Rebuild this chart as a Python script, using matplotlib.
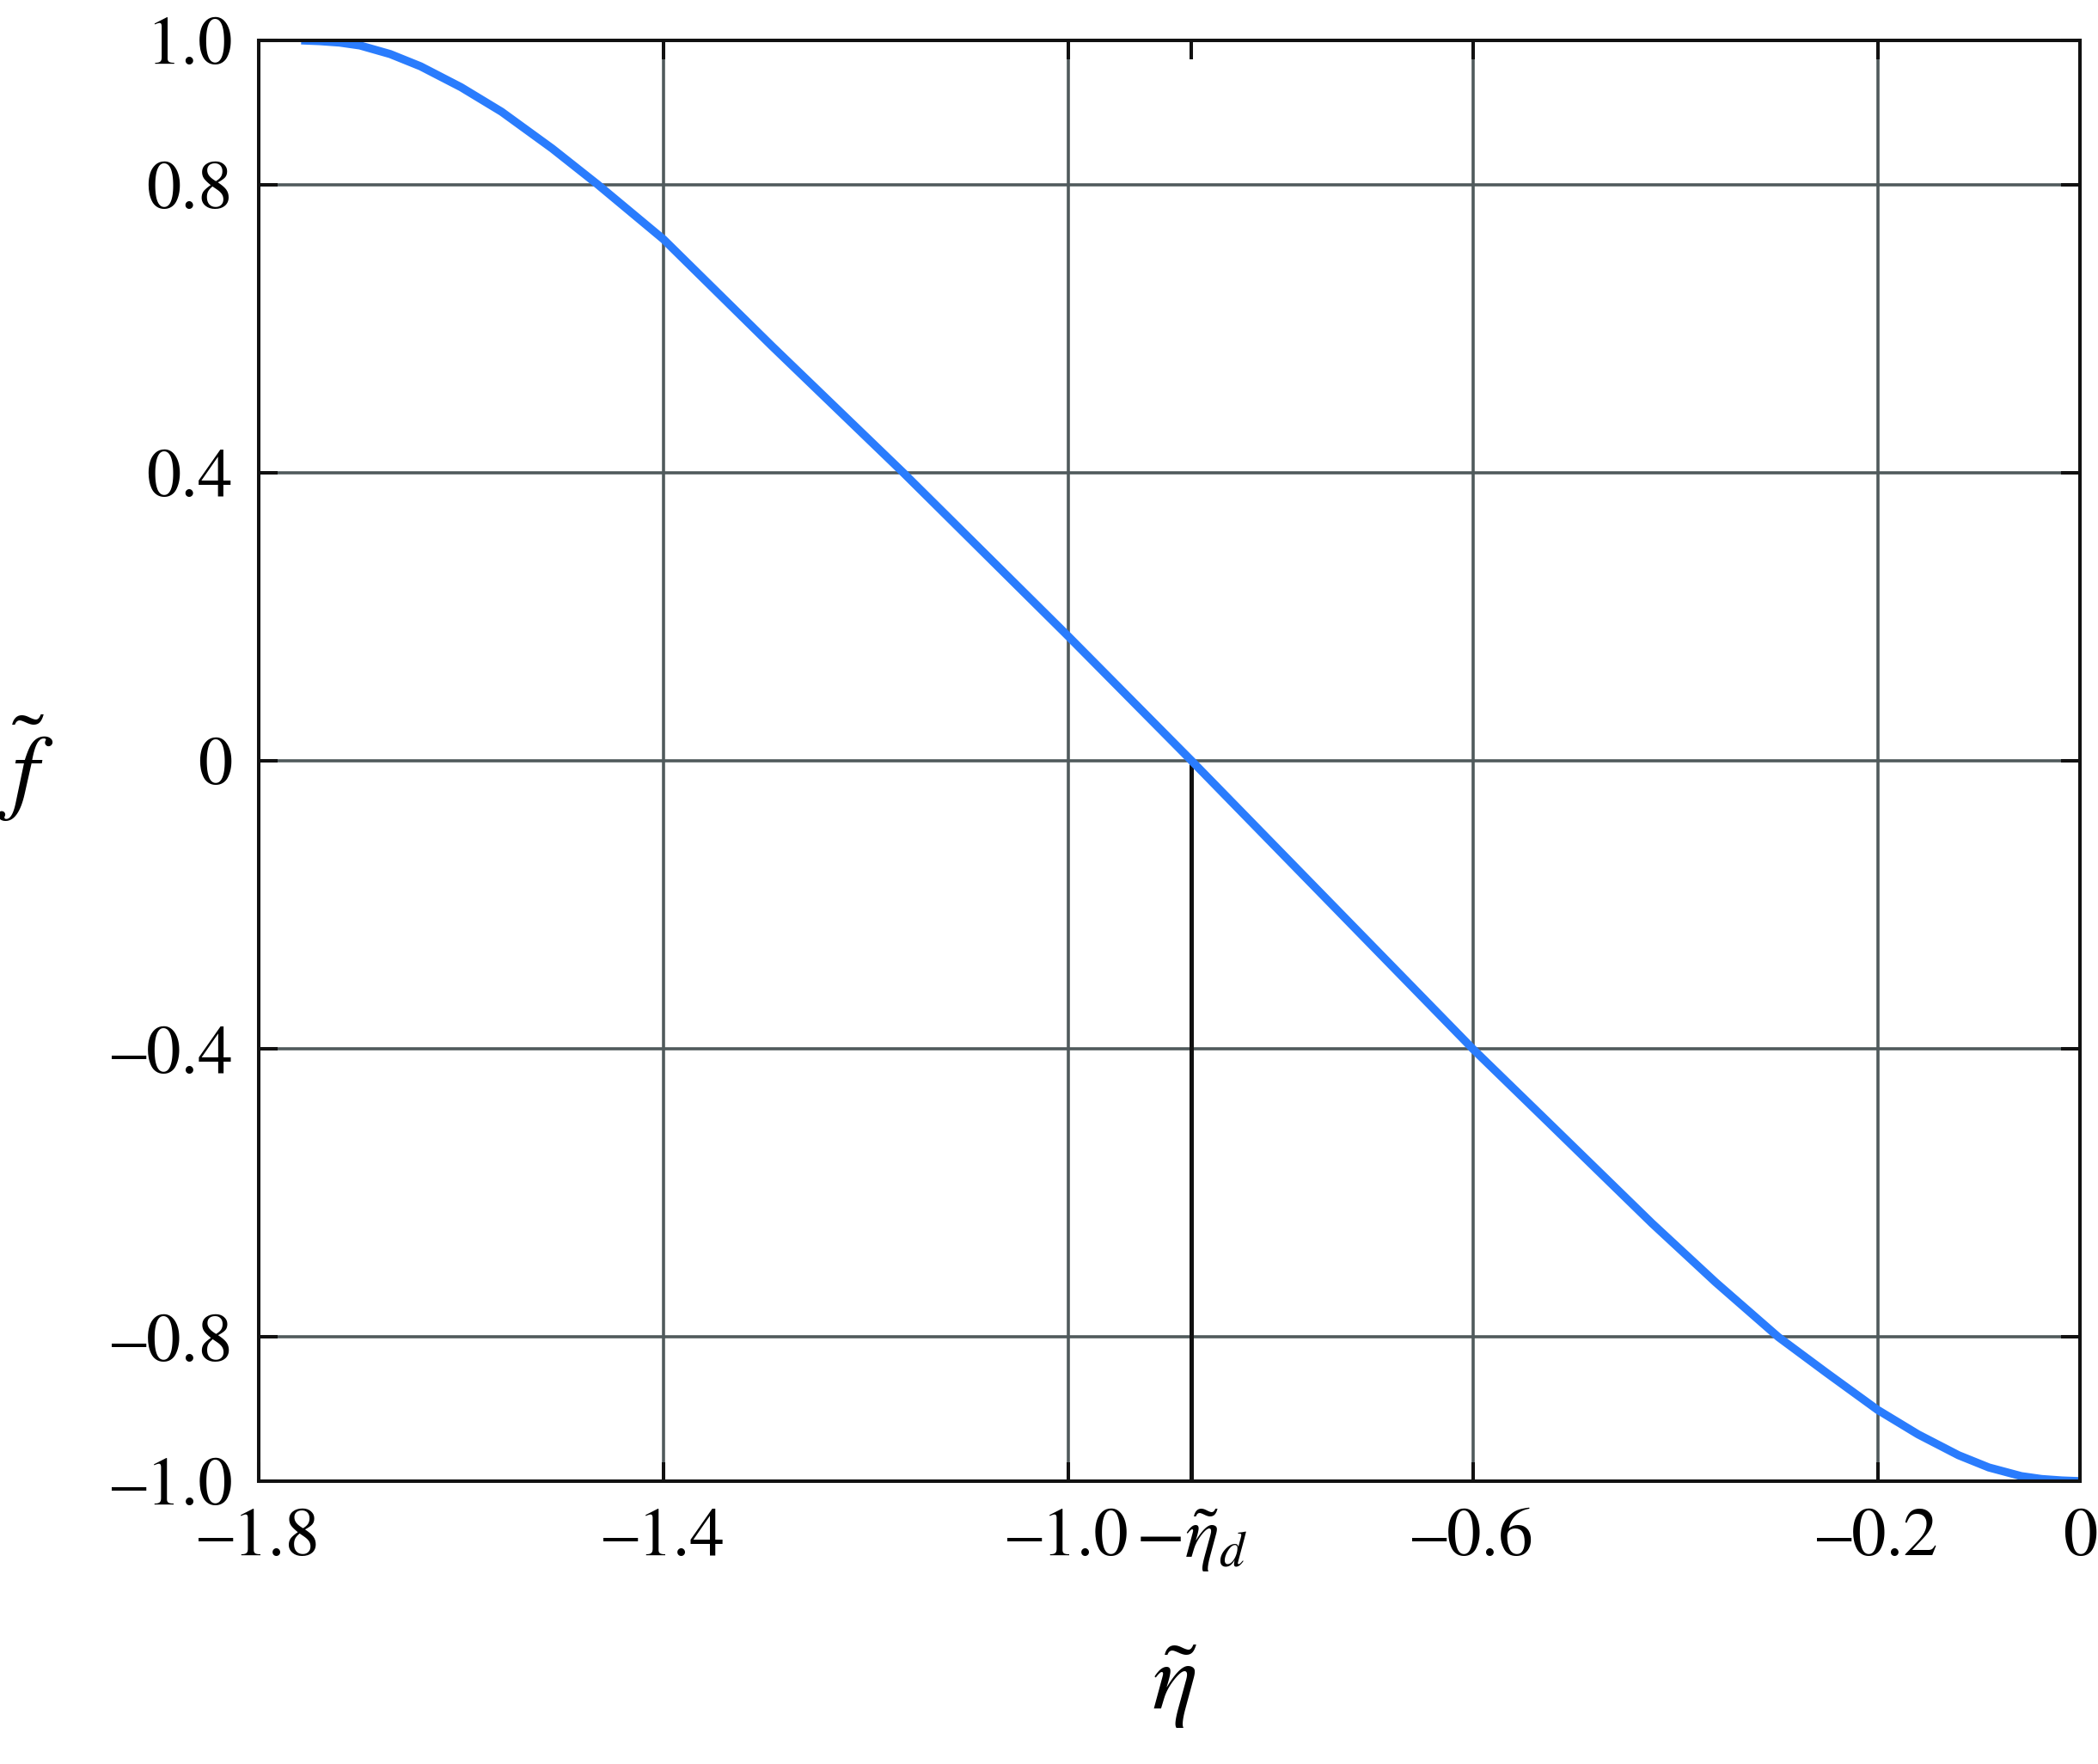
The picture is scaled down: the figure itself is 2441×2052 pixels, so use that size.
import matplotlib
matplotlib.use("Agg")
import matplotlib.pyplot as plt

# data
eta = [-1.758, -1.74, -1.72, -1.70, -1.67, -1.64, -1.60, -1.56, -1.51, -1.465, -1.40,
       -1.293, -1.163, -1.0, -0.878, -0.6, -0.526, -0.423, -0.36, -0.298, -0.25,
       -0.20, -0.16, -0.12, -0.09, -0.058, -0.038, -0.018, 0.0]
f = [1.0, 0.999, 0.997, 0.993, 0.981, 0.964, 0.935, 0.901, 0.850, 0.80, 0.724,
     0.576, 0.40, 0.173, 0.0, -0.40, -0.501, -0.642, -0.724, -0.80, -0.850,
     -0.901, -0.935, -0.964, -0.981, -0.993, -0.997, -0.999, -1.0]
eta_d = 0.878

xticks = [-1.8, -1.4, -1.0, -eta_d, -0.6, -0.2, 0.0]
xticklabels = ['\u20131.8', '\u20131.4', '\u20131.0', r'$-\tilde{\eta}_d$', '\u20130.6', '\u20130.2', '0']
xgrid = [-1.4, -1.0, -0.6, -0.2]
yticks = [1.0, 0.8, 0.4, 0.0, -0.4, -0.8, -1.0]
yticklabels = ['1.0', '0.8', '0.4', '0', '\u20130.4', '\u20130.8', '\u20131.0']
ygrid = [0.8, 0.4, 0.0, -0.4, -0.8]

plt.rcParams['mathtext.fontset'] = 'stix'
plt.rcParams['font.family'] = ['STIXGeneral', 'DejaVu Serif']

fig = plt.figure(figsize=(24.41, 20.52), dpi=100)
ax = fig.add_axes([301/2441, 1 - 1723/2052, 2119/2441, 1676/2052])

grid_color = '#505a5c'
for gx in xgrid:
    ax.axvline(gx, color=grid_color, lw=2.6, zorder=1)
for gy in ygrid:
    ax.axhline(gy, color=grid_color, lw=2.6, zorder=1)

ax.plot([-eta_d, -eta_d], [-1.0, 0.0], color='#111111', lw=3.6, zorder=2,
        solid_capstyle='butt')
ax.plot(eta, f, color='#2a7cfd', lw=6.8, zorder=3, solid_capstyle='butt',
        solid_joinstyle='round')

ax.set_xlim(-1.8, 0.0)
ax.set_ylim(-1.0, 1.0)
ax.set_xticks(xticks)
ax.set_xticklabels(xticklabels)
ax.set_yticks(yticks)
ax.set_yticklabels(yticklabels)

ax.tick_params(axis='both', direction='in', length=16, width=2.9, color='#111111',
               labelsize=58, top=True, right=True, zorder=4)
ax.tick_params(axis='x', pad=22)
ax.tick_params(axis='y', pad=22)
lbl = ax.get_xticklabels()[3]
lbl.set_fontsize(60)
for s in ax.spines.values():
    s.set_linewidth(2.9)
    s.set_color('#111111')
    s.set_zorder(5)

ax.set_xlabel(r'$\tilde{\eta}$', fontsize=80)
ax.xaxis.set_label_coords(0.503, -0.112)
ax.set_ylabel(r'$\tilde{f}$', fontsize=80, rotation=0, va='center', ha='center')
ax.yaxis.set_label_coords(-0.128, 0.495)

fig.savefig('out.png', dpi=100)
